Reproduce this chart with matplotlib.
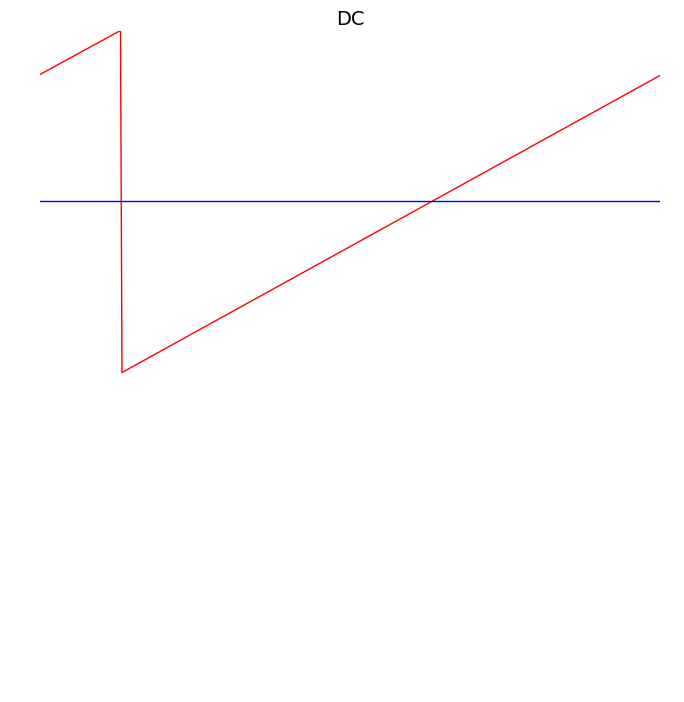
import matplotlib
matplotlib.use("Agg")
from matplotlib import pyplot as plt

# sawtooth signal (time in samples) and DC level
t = [0, 80.5, 82, 620]
signal = [0.743, 1.0, -1.0, 0.737]
dc_t = [0, 620]
dc = [0.0, 0.0]

fig = plt.figure(figsize=(6.84, 7.02), dpi=100)
ax = fig.add_axes([40 / 684, 12 / 702, 620 / 684, 659.5 / 702])

ax.plot(t, signal, color='red', linewidth=1)
ax.plot(dc_t, dc, color='blue', linewidth=1)
ax.set_xlim(0, 620)
ax.set_ylim(-2.857, 1.0)
ax.set_title('DC', fontsize=14, pad=4)
ax.axis('off')

fig.savefig('out.png', dpi=100)
